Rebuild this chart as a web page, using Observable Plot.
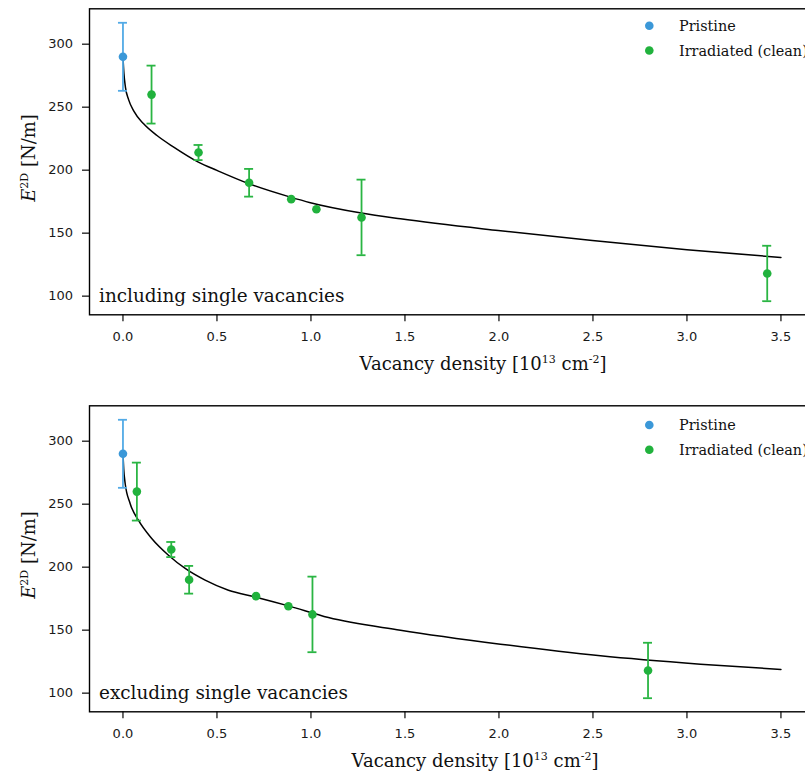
<!DOCTYPE html>
<html>
<head>
<meta charset="utf-8">
<script src="https://cdn.jsdelivr.net/npm/d3@7"></script>
<script src="https://cdn.jsdelivr.net/npm/@observablehq/plot@0.6"></script>
<style>
  html, body { margin: 0; padding: 0; background: #fff; overflow: hidden; }
  #wrap { position: relative; width: 805px; height: 778px; overflow: hidden; background: #fff; }
  #wrap svg { position: absolute; left: 0; max-width: none !important; }
</style>
</head>
<body>
<div id="wrap"></div>
<script>
// ---- data ----
const xTicks = [0, 0.5, 1.0, 1.5, 2.0, 2.5, 3.0, 3.5];
const yTicks = [100, 150, 200, 250, 300];

const pristineX = [0];
const pristineY = [290];
const pristineErr = [27];

const irrY = [260, 214, 190, 177, 169, 162.5, 118];
const irrErr = [23, 6, 11, 0, 0, 30, 22];
const irrXIncl = [0.152, 0.402, 0.671, 0.895, 1.029, 1.269, 3.427];
const irrXExcl = [0.074, 0.257, 0.352, 0.708, 0.880, 1.008, 2.793];

const fitXIncl = [0, 0.005, 0.013, 0.03, 0.057, 0.11, 0.181, 0.27, 0.401, 0.5, 0.671, 0.891, 0.997, 1.268, 1.476, 1.996, 2.497, 3.0, 3.5];
const fitYIncl = [290, 277, 266, 256, 247, 236.8, 227.5, 218.3, 206.4, 199.8, 189.2, 178.6, 174.2, 166, 161.4, 152.1, 144.2, 136.8, 130.7];

const fitXExcl = [0, 0.004, 0.0117, 0.038, 0.082, 0.153, 0.242, 0.331, 0.437, 0.561, 0.703, 0.880, 1.093, 1.476, 2.008, 2.54, 3.072, 3.5];
const fitYExcl = [290, 278, 266.4, 250.6, 237.3, 222.8, 209.5, 199.0, 189.7, 181.7, 176.4, 169.3, 160.0, 150, 138.9, 129.6, 123.0, 118.8];

const seriesNames = ["Pristine", "Irradiated (clean)"];
const annotations = ["including single vacancies", "excluding single vacancies"];

// ---- style ----
const dotColor = {"Pristine": "#3b98d8", "Irradiated (clean)": "#21b23d"};
const barColor = {"Pristine": "#52aae6", "Irradiated (clean)": "#2ab543"};
const serif = "'DejaVu Serif', serif";

function makePanel(irrX, fitX, fitY, annotation, opts) {
  const pts = [];
  pristineX.forEach((x, i) => pts.push({x, y: pristineY[i], e: pristineErr[i], s: seriesNames[0]}));
  irrX.forEach((x, i) => pts.push({x, y: irrY[i], e: irrErr[i], s: seriesNames[1]}));
  const errPts = pts.filter(d => d.e > 0);
  const fit = fitX.map((x, i) => ({x, y: fitY[i]}));

  const svg = Plot.plot({
    width: 870,
    height: 381,
    marginLeft: 89,
    marginRight: 20,
    marginTop: 8.3,
    marginBottom: 66.7,
    style: {fontFamily: "'DejaVu Sans', sans-serif", fontSize: "13px", color: "#1a1a1a", background: "transparent", overflow: "visible", maxWidth: "none"},
    x: {domain: [-0.178, 3.87]},
    y: {domain: [85.2, 328.1]},
    marks: [
      Plot.line(fit, {x: "x", y: "y", curve: "monotone-x", stroke: "#000", strokeWidth: 1.5}),
      Plot.ruleX(errPts, {x: "x", y1: d => d.y - d.e, y2: d => d.y + d.e, stroke: d => barColor[d.s], strokeWidth: 1.8}),
      Plot.ruleY(errPts, {y: d => d.y + d.e, x1: "x", x2: "x", insetLeft: -4.5, insetRight: -4.5, stroke: d => barColor[d.s], strokeWidth: 1.8}),
      Plot.ruleY(errPts, {y: d => d.y - d.e, x1: "x", x2: "x", insetLeft: -4.5, insetRight: -4.5, stroke: d => barColor[d.s], strokeWidth: 1.8}),
      Plot.dot(pts, {x: "x", y: "y", r: 4.3, fill: d => dotColor[d.s]}),
      Plot.axisX({ticks: xTicks, tickFormat: d => d.toFixed(1), tickSize: 7, tickPadding: 10, strokeWidth: 1.3, fontSize: 13, label: null}),
      Plot.axisY({ticks: yTicks, tickSize: 7, tickPadding: 9.5, strokeWidth: 1.3, fontSize: 13, label: null}),
      Plot.frame({stroke: "#000", strokeWidth: 1.4})
    ]
  });
  svg.style.maxWidth = "none";

  const g = d3.select(svg);
  // annotation
  g.append("text").attr("x", 99).attr("y", 301.7).attr("text-anchor", "start")
    .attr("font-family", serif).attr("font-size", 18.4).attr("fill", "#111")
    .text(annotation);
  // legend
  seriesNames.forEach((name, i) => {
    const cy = opts.legendY + i * 24.8;
    g.append("circle").attr("cx", 649.3).attr("cy", cy).attr("r", 4.3).attr("fill", dotColor[name]);
    g.append("text").attr("x", 679).attr("y", cy).attr("dy", "0.35em").attr("text-anchor", "start")
      .attr("font-family", serif).attr("font-size", 14.4).attr("fill", "#111")
      .text(name);
  });
  // x label
  const xl = g.append("text").attr("x", opts.xLabelX).attr("y", 370).attr("text-anchor", "middle")
    .attr("font-family", serif).attr("font-size", 18).attr("fill", "#111");
  xl.append("tspan").text("Vacancy density [10");
  xl.append("tspan").attr("font-size", 11).attr("dy", -7).text("13");
  xl.append("tspan").attr("dy", 7).text(" cm");
  xl.append("tspan").attr("font-size", 11).attr("dy", -7).text("-2");
  xl.append("tspan").attr("dy", 7).text("]");
  // y label
  const yl = g.append("text").attr("transform", "translate(35,158) rotate(-90)").attr("text-anchor", "middle")
    .attr("font-family", serif).attr("font-size", 18).attr("fill", "#111");
  yl.append("tspan").attr("font-style", "italic").text("E");
  yl.append("tspan").attr("font-size", 11).attr("dy", -7).text("2D");
  yl.append("tspan").attr("dy", 7).text(" [N/m]");

  svg.style.top = opts.top + "px";
  return svg;
}

const wrap = document.getElementById("wrap");
wrap.appendChild(makePanel(irrXIncl, fitXIncl, fitYIncl, annotations[0], {top: 0, legendY: 25.7, xLabelX: 483}));
wrap.appendChild(makePanel(irrXExcl, fitXExcl, fitYExcl, annotations[1], {top: 397, legendY: 28, xLabelX: 475}));
</script>
</body>
</html>
